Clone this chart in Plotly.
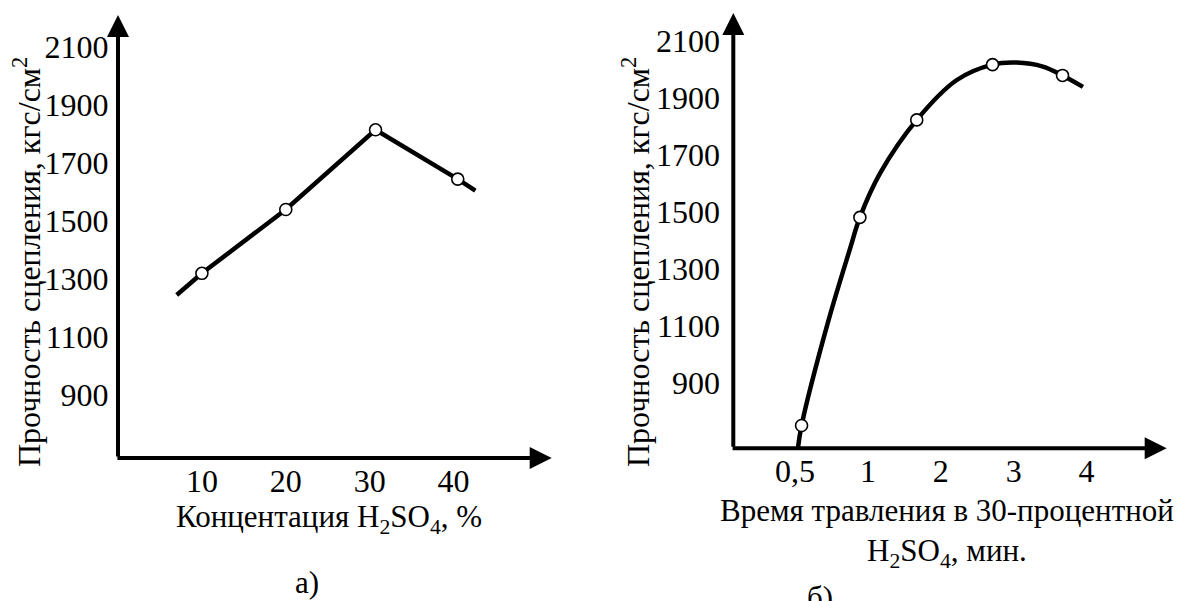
import plotly.graph_objects as go

# ---------- data ----------
# Panel a: strength vs H2SO4 concentration
conc_ticks = [10, 20, 30, 40]
conc_points = [10, 20, 30.7, 40.5]
strength_a_points = [1320, 1540, 1815, 1645]
conc_line = [7.0, 10, 20, 30.7, 40.5, 42.6]
strength_a_line = [1245, 1320, 1540, 1815, 1645, 1605]

# Panel b: strength vs etching time (tick positions are evenly spaced)
time_tick_pos = [1, 2, 3, 4, 5]
time_tick_text = ["0,5", "1", "2", "3", "4"]
time_points = [1.09, 1.89, 2.67, 3.71, 4.67]
strength_b_points = [750, 1480, 1822, 2016, 1978]
time_curve = [1.04, 1.09, 1.45, 1.75, 1.89, 2.17, 2.67, 3.22, 3.71, 4.04, 4.40, 4.67, 4.95]
strength_b_curve = [670, 750, 1110, 1366, 1480, 1636, 1822, 1962, 2016, 2023, 2009, 1978, 1938]

y_ticks = [900, 1100, 1300, 1500, 1700, 1900, 2100]

y_title = "Прочность сцепления, кгс/см<sup>2</sup>"
x_title_a = "Концентация H<sub>2</sub>SO<sub>4</sub>, %"
x_title_b = "Время травления в 30-процентной<br>H<sub>2</sub>SO<sub>4</sub>, мин."

FONT = "Liberation Serif"
FS_TICK = 32
FS_YT = 32
FS_XT = 31

# ---------- figure ----------
fig = go.Figure()

fig.add_trace(go.Scatter(x=conc_line, y=strength_a_line, mode="lines",
                         line=dict(color="black", width=4.5),
                         xaxis="x", yaxis="y", showlegend=False, hoverinfo="skip"))
fig.add_trace(go.Scatter(x=conc_points, y=strength_a_points, mode="markers",
                         marker=dict(symbol="circle", size=12, color="white",
                                     line=dict(color="black", width=1.6)),
                         xaxis="x", yaxis="y", showlegend=False, cliponaxis=False))

fig.add_trace(go.Scatter(x=time_curve, y=strength_b_curve, mode="lines",
                         line=dict(color="black", width=4.5, shape="spline", smoothing=1.0),
                         xaxis="x2", yaxis="y2", showlegend=False, hoverinfo="skip"))
fig.add_trace(go.Scatter(x=time_points, y=strength_b_points, mode="markers",
                         marker=dict(symbol="circle", size=12, color="white",
                                     line=dict(color="black", width=1.6)),
                         xaxis="x2", yaxis="y2", showlegend=False, cliponaxis=False))

ax_common = dict(showgrid=False, zeroline=False, showline=False,
                 tickcolor="rgba(0,0,0,0)",
                 tickfont=dict(family=FONT, size=FS_TICK, color="black"),
                 fixedrange=True)

xa_range = [0, 51.7]
ya_range = [683, 2211]
xb_range = [0.1536, 6.099]
yb_range = [670, 2197]

fig.update_layout(
    width=1179, height=601,
    margin=dict(l=0, r=0, t=0, b=0),
    paper_bgcolor="white", plot_bgcolor="white",
    font=dict(family=FONT, size=FS_TICK, color="black"),
    xaxis=dict(domain=[118 / 1179, 551.7 / 1179], range=xa_range,
               tickvals=conc_ticks, ticks="", ticklabelstandoff=1,
               anchor="y", **ax_common),
    yaxis=dict(domain=[1 - 458 / 601, 1 - 15 / 601], range=ya_range,
               tickvals=y_ticks, ticks="outside", ticklen=2, anchor="x", **ax_common),
    xaxis2=dict(domain=[733.3 / 1179, 1166.7 / 1179], range=xb_range,
                tickvals=time_tick_pos, ticktext=time_tick_text, ticks="",
                ticklabelstandoff=1, anchor="y2", **ax_common),
    yaxis2=dict(domain=[1 - 448.3 / 601, 1 - 13 / 601], range=yb_range,
                tickvals=y_ticks, ticks="outside", ticklen=6, anchor="x2", **ax_common),
)

# axis lines with arrowheads
def axis_arrow(xref, yref, x, y, ax, ay):
    return dict(xref=xref, yref=yref, axref=xref, ayref=yref,
                x=x, y=y, ax=ax, ay=ay, text="", showarrow=True,
                arrowhead=2, arrowsize=1.1, arrowwidth=4, arrowcolor="black")

annotations = [
    axis_arrow("x", "y", 0, ya_range[1], 0, ya_range[0]),
    axis_arrow("x", "y", xa_range[1], ya_range[0], -0.25, ya_range[0]),
    axis_arrow("x2", "y2", xb_range[0], yb_range[1], xb_range[0], yb_range[0]),
    axis_arrow("x2", "y2", xb_range[1], yb_range[0], xb_range[0] - 0.03, yb_range[0]),
]

def txt(x, y, text, size, angle=0, yanchor="middle"):
    return dict(xref="paper", yref="paper", x=x / 1179, y=1 - y / 601, text=text,
                textangle=angle, showarrow=False, xanchor="center", yanchor=yanchor,
                font=dict(family=FONT, size=size, color="black"))

# titles and captions
annotations += [
    txt(27, 262, y_title, FS_YT, angle=-90),
    txt(636, 262, y_title, FS_YT, angle=-90),
    txt(329, 519, x_title_a, FS_XT),
    txt(947, 533, x_title_b, FS_XT),
    txt(307, 582, "а)", FS_XT),
    txt(820, 578, "б)", FS_XT, yanchor="top"),
]
fig.update_layout(annotations=annotations)

fig.write_html("out.html", config=dict(displayModeBar=False),
               post_script="document.body.style.margin='0';document.body.style.padding='0';")
